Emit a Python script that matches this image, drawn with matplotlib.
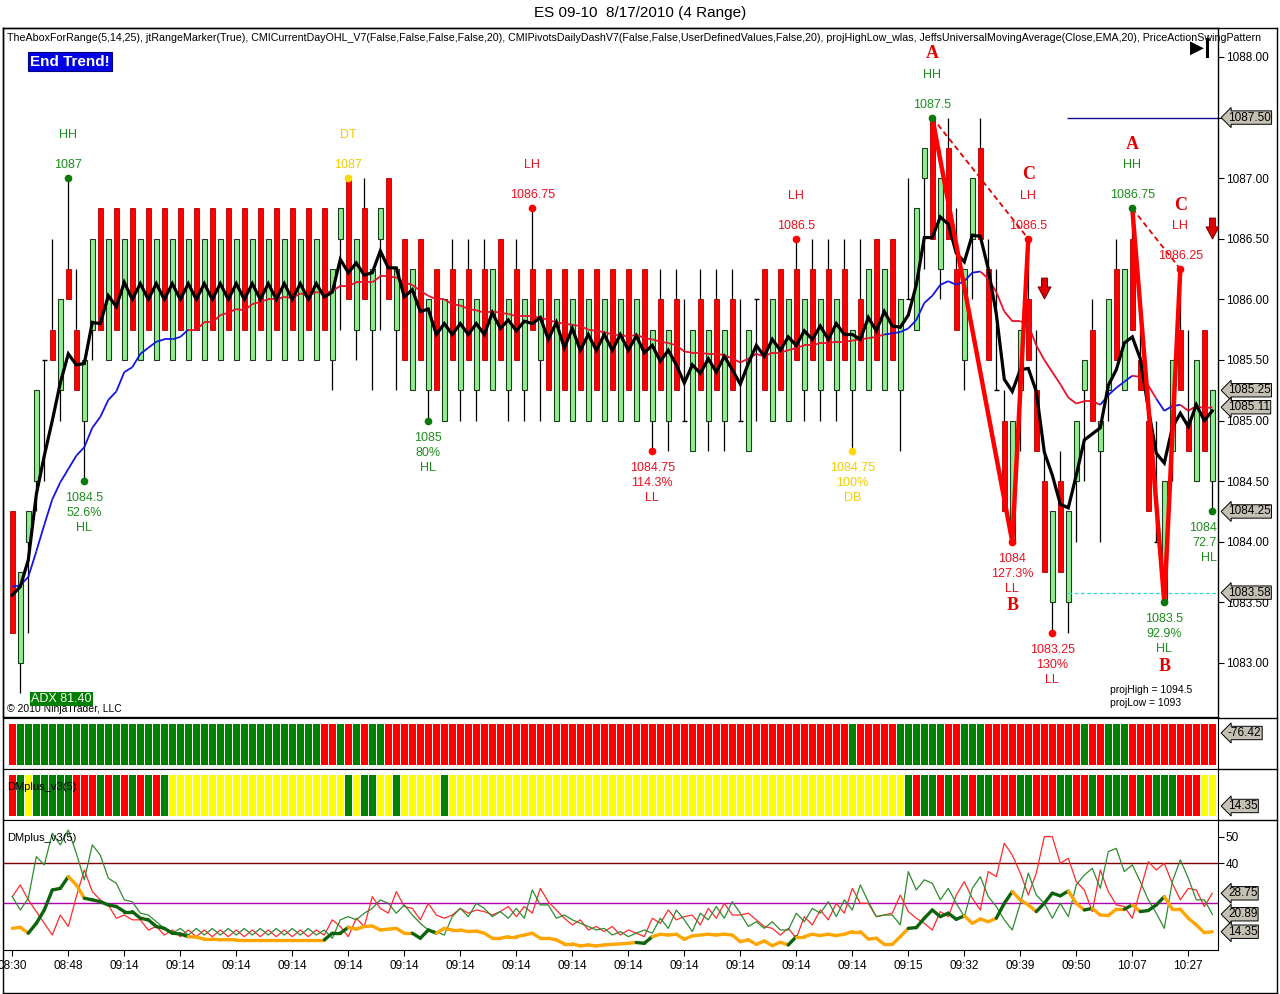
import matplotlib
matplotlib.use("Agg")
import matplotlib.pyplot as plt
from matplotlib.collections import LineCollection
from matplotlib.path import Path
from matplotlib.lines import Line2D
import numpy as np

plt.rcParams['font.family'] = ['Liberation Sans', 'DejaVu Sans']

# ---------------- text ----------------
title = "ES 09-10  8/17/2010 (4 Range)"
header = ("TheAboxForRange(5,14,25), jtRangeMarker(True), CMICurrentDayOHL_V7(False,False,False,False,20), "
          "CMIPivotsDailyDashV7(False,False,UserDefinedValues,False,20), projHighLow_wlas, "
          "JeffsUniversalMovingAverage(Close,EMA,20), PriceActionSwingPattern")

# ---------------- price bars (4-tick range bars) ----------------
opens = [
    1084.25, 1083.0, 1084.0, 1084.5, 1085.5, 1085.75, 1085.25, 1086.25, 1085.75, 1085.0,
    1085.75, 1086.75, 1085.5, 1086.75, 1085.5, 1086.75, 1085.5, 1086.75, 1085.5, 1086.75,
    1085.5, 1086.75, 1085.5, 1086.75, 1085.5, 1086.75, 1085.5, 1086.75, 1085.5, 1086.75,
    1085.5, 1086.75, 1085.5, 1086.75, 1085.5, 1086.75, 1085.5, 1086.75, 1085.5, 1086.75,
    1085.5, 1086.5, 1087.0, 1085.75, 1086.75, 1085.75, 1086.5, 1087.0, 1085.75, 1086.5,
    1085.25, 1086.5, 1085.25, 1086.25, 1085.0, 1086.25, 1085.25, 1086.25, 1085.25, 1086.25,
    1085.25, 1086.5, 1085.25, 1086.25, 1085.25, 1086.25, 1085.5, 1086.25, 1085.0, 1086.25,
    1085.0, 1086.25, 1085.0, 1086.25, 1085.0, 1086.25, 1085.0, 1086.25, 1085.0, 1086.25,
    1085.0, 1086.0, 1085.0, 1086.0, 1085.0, 1084.75, 1086.0, 1085.0, 1086.0, 1085.0,
    1086.0, 1085.0, 1084.75, 1086.0, 1086.25, 1085.0, 1086.25, 1085.0, 1086.25, 1085.25,
    1086.25, 1085.25, 1086.25, 1085.25, 1086.25, 1085.25, 1086.0, 1085.25, 1086.5, 1085.25,
    1086.5, 1085.25, 1086.0, 1085.75, 1087.0, 1087.5, 1086.25, 1087.25, 1086.25, 1085.5,
    1086.5, 1087.25, 1086.25, 1085.25, 1085.0, 1084.0, 1085.25, 1086.0, 1085.25, 1084.5,
    1083.5, 1084.5, 1083.5, 1084.5, 1085.25, 1085.75, 1084.75, 1085.25, 1086.25, 1085.25,
    1086.5, 1085.5, 1085.0, 1084.0, 1083.5, 1084.75, 1085.75, 1085.0, 1084.5, 1085.75,
    1084.5]
highs = [
    1084.25, 1083.75, 1084.25, 1085.25, 1085.5, 1086.5, 1086.0, 1087.0, 1086.25, 1085.5,
    1086.5, 1086.75, 1086.5, 1086.75, 1086.5, 1086.75, 1086.5, 1086.75, 1086.5, 1086.75,
    1086.5, 1086.75, 1086.5, 1086.75, 1086.5, 1086.75, 1086.5, 1086.75, 1086.5, 1086.75,
    1086.5, 1086.75, 1086.5, 1086.75, 1086.5, 1086.75, 1086.5, 1086.75, 1086.5, 1086.75,
    1086.25, 1086.75, 1087.0, 1086.5, 1087.0, 1086.25, 1086.75, 1087.0, 1086.25, 1086.5,
    1086.25, 1086.5, 1086.0, 1086.25, 1086.0, 1086.5, 1086.0, 1086.5, 1086.0, 1086.5,
    1086.25, 1086.5, 1086.0, 1086.5, 1086.0, 1086.75, 1086.0, 1086.25, 1086.0, 1086.25,
    1086.0, 1086.25, 1086.0, 1086.25, 1086.0, 1086.25, 1086.0, 1086.25, 1086.0, 1086.25,
    1085.75, 1086.25, 1085.75, 1086.25, 1086.0, 1085.75, 1086.25, 1085.75, 1086.25, 1085.75,
    1086.25, 1086.0, 1085.75, 1086.0, 1086.25, 1086.0, 1086.25, 1086.0, 1086.5, 1086.0,
    1086.5, 1086.0, 1086.5, 1086.0, 1086.5, 1085.75, 1086.5, 1086.25, 1086.5, 1086.25,
    1086.5, 1086.0, 1087.0, 1086.75, 1087.25, 1087.5, 1087.0, 1087.5, 1086.75, 1086.25,
    1087.0, 1087.5, 1086.5, 1086.25, 1085.25, 1085.0, 1085.75, 1086.5, 1085.75, 1084.75,
    1084.25, 1084.75, 1084.25, 1085.0, 1085.5, 1086.0, 1085.0, 1086.0, 1086.5, 1086.25,
    1086.75, 1085.75, 1085.25, 1085.0, 1084.5, 1085.5, 1086.25, 1085.75, 1085.5, 1085.75,
    1085.25]
lows = [
    1083.25, 1082.75, 1083.25, 1084.25, 1084.5, 1085.5, 1085.0, 1086.0, 1085.25, 1084.5,
    1085.5, 1085.75, 1085.5, 1085.75, 1085.5, 1085.75, 1085.5, 1085.75, 1085.5, 1085.75,
    1085.5, 1085.75, 1085.5, 1085.75, 1085.5, 1085.75, 1085.5, 1085.75, 1085.5, 1085.75,
    1085.5, 1085.75, 1085.5, 1085.75, 1085.5, 1085.75, 1085.5, 1085.75, 1085.5, 1085.75,
    1085.25, 1085.75, 1086.0, 1085.5, 1086.0, 1085.25, 1085.75, 1086.0, 1085.25, 1085.5,
    1085.25, 1085.5, 1085.0, 1085.25, 1085.0, 1085.5, 1085.0, 1085.5, 1085.0, 1085.5,
    1085.25, 1085.5, 1085.0, 1085.5, 1085.0, 1085.75, 1085.0, 1085.25, 1085.0, 1085.25,
    1085.0, 1085.25, 1085.0, 1085.25, 1085.0, 1085.25, 1085.0, 1085.25, 1085.0, 1085.25,
    1084.75, 1085.25, 1084.75, 1085.25, 1085.0, 1084.75, 1085.25, 1084.75, 1085.25, 1084.75,
    1085.25, 1085.0, 1084.75, 1085.0, 1085.25, 1085.0, 1085.25, 1085.0, 1085.5, 1085.0,
    1085.5, 1085.0, 1085.5, 1085.0, 1085.5, 1084.75, 1085.5, 1085.25, 1085.5, 1085.25,
    1085.5, 1084.75, 1086.0, 1085.75, 1086.25, 1086.5, 1086.0, 1086.5, 1085.75, 1085.25,
    1086.0, 1086.5, 1085.5, 1085.25, 1084.25, 1084.0, 1084.75, 1085.5, 1084.75, 1083.75,
    1083.25, 1083.75, 1083.25, 1084.0, 1084.5, 1085.0, 1084.0, 1085.0, 1085.5, 1085.25,
    1085.75, 1085.25, 1084.25, 1084.0, 1083.5, 1084.5, 1085.25, 1084.75, 1084.5, 1084.75,
    1084.25]
closes = [
    1083.25, 1083.75, 1084.25, 1085.25, 1085.5, 1085.5, 1086.0, 1086.0, 1085.25, 1085.5,
    1086.5, 1085.75, 1086.5, 1085.75, 1086.5, 1085.75, 1086.5, 1085.75, 1086.5, 1085.75,
    1086.5, 1085.75, 1086.5, 1085.75, 1086.5, 1085.75, 1086.5, 1085.75, 1086.5, 1085.75,
    1086.5, 1085.75, 1086.5, 1085.75, 1086.5, 1085.75, 1086.5, 1085.75, 1086.5, 1085.75,
    1086.25, 1086.75, 1086.0, 1086.5, 1086.0, 1086.25, 1086.75, 1086.0, 1086.25, 1085.5,
    1086.25, 1085.5, 1086.0, 1085.25, 1086.0, 1085.5, 1086.0, 1085.5, 1086.0, 1085.5,
    1086.25, 1085.5, 1086.0, 1085.5, 1086.0, 1085.75, 1086.0, 1085.25, 1086.0, 1085.25,
    1086.0, 1085.25, 1086.0, 1085.25, 1086.0, 1085.25, 1086.0, 1085.25, 1086.0, 1085.25,
    1085.75, 1085.25, 1085.75, 1085.25, 1085.0, 1085.75, 1085.25, 1085.75, 1085.25, 1085.75,
    1085.25, 1085.0, 1085.75, 1086.0, 1085.25, 1086.0, 1085.25, 1086.0, 1085.5, 1086.0,
    1085.5, 1086.0, 1085.5, 1086.0, 1085.5, 1085.75, 1085.5, 1086.25, 1085.5, 1086.25,
    1085.5, 1086.0, 1086.0, 1086.75, 1087.25, 1086.5, 1087.0, 1086.5, 1085.75, 1086.25,
    1087.0, 1086.5, 1085.5, 1085.25, 1084.25, 1085.0, 1085.75, 1085.5, 1084.75, 1083.75,
    1084.25, 1083.75, 1084.25, 1085.0, 1085.5, 1085.0, 1085.0, 1086.0, 1085.5, 1086.25,
    1085.75, 1085.25, 1084.25, 1084.0, 1084.5, 1085.5, 1085.25, 1084.75, 1085.5, 1084.75,
    1085.25]

# fast (black) moving average
fast_ma = [
    1083.56, 1083.63, 1083.85, 1084.39, 1084.71, 1085.0, 1085.31, 1085.55, 1085.46, 1085.47,
    1085.81, 1085.8, 1086.03, 1085.94, 1086.14, 1086.0, 1086.13, 1086.0, 1086.13, 1086.0,
    1086.13, 1086.0, 1086.13, 1086.0, 1086.13, 1086.0, 1086.13, 1086.0, 1086.13, 1086.0,
    1086.13, 1086.0, 1086.13, 1086.0, 1086.13, 1086.0, 1086.13, 1086.0, 1086.13, 1086.02,
    1086.06, 1086.33, 1086.22, 1086.3, 1086.2, 1086.22, 1086.4, 1086.26, 1086.26, 1086.02,
    1086.08, 1085.9, 1085.92, 1085.71, 1085.8, 1085.71, 1085.8, 1085.71, 1085.8, 1085.71,
    1085.89, 1085.76, 1085.83, 1085.74, 1085.82, 1085.8, 1085.85, 1085.67, 1085.81, 1085.6,
    1085.76, 1085.58, 1085.71, 1085.58, 1085.71, 1085.58, 1085.71, 1085.58, 1085.7, 1085.56,
    1085.62, 1085.49, 1085.58, 1085.46, 1085.31, 1085.46, 1085.39, 1085.51, 1085.4, 1085.53,
    1085.42, 1085.3, 1085.47, 1085.62, 1085.53, 1085.67, 1085.58, 1085.69, 1085.62, 1085.74,
    1085.67, 1085.78, 1085.67, 1085.8, 1085.71, 1085.71, 1085.67, 1085.85, 1085.74, 1085.9,
    1085.78, 1085.77, 1085.87, 1086.12, 1086.51, 1086.51, 1086.68, 1086.62, 1086.38, 1086.31,
    1086.53, 1086.52, 1086.25, 1085.88, 1085.34, 1085.24, 1085.42, 1085.43, 1085.24, 1084.74,
    1084.55, 1084.31, 1084.28, 1084.55, 1084.84, 1084.89, 1084.94, 1085.29, 1085.42, 1085.64,
    1085.69, 1085.51, 1085.1, 1084.73, 1084.65, 1084.94, 1085.06, 1084.95, 1085.13, 1085.0,
    1085.08]
# EMA(20)
ema20 = [
    1083.63, 1083.64, 1083.71, 1083.92, 1084.14, 1084.35, 1084.49, 1084.6, 1084.71, 1084.78,
    1084.94, 1085.03, 1085.17, 1085.24, 1085.4, 1085.44, 1085.55, 1085.6, 1085.65, 1085.67,
    1085.67, 1085.69, 1085.75, 1085.75, 1085.81, 1085.81, 1085.87, 1085.89, 1085.92, 1085.91,
    1085.96, 1085.98, 1086.0, 1086.0, 1086.02, 1086.01, 1086.05, 1086.03, 1086.06, 1086.05,
    1086.07, 1086.11, 1086.11, 1086.14, 1086.14, 1086.14, 1086.19, 1086.19, 1086.18, 1086.14,
    1086.12, 1086.07, 1086.03, 1086.0, 1086.0, 1085.96, 1085.95, 1085.92, 1085.91, 1085.89,
    1085.9, 1085.89, 1085.88, 1085.86, 1085.86, 1085.86, 1085.85, 1085.83, 1085.81, 1085.8,
    1085.79, 1085.78, 1085.75, 1085.74, 1085.73, 1085.71, 1085.71, 1085.69, 1085.71, 1085.68,
    1085.67, 1085.65, 1085.64, 1085.62, 1085.57, 1085.56, 1085.56, 1085.55, 1085.55, 1085.54,
    1085.51, 1085.48, 1085.51, 1085.55, 1085.53, 1085.56, 1085.56, 1085.58, 1085.6, 1085.62,
    1085.62, 1085.64, 1085.64, 1085.65, 1085.65, 1085.66, 1085.67, 1085.68, 1085.69, 1085.71,
    1085.72, 1085.73, 1085.76, 1085.83, 1085.97, 1086.03, 1086.12, 1086.15, 1086.12, 1086.15,
    1086.22, 1086.23, 1086.17, 1086.06, 1085.9, 1085.82, 1085.82, 1085.79, 1085.62, 1085.5,
    1085.4, 1085.3, 1085.19, 1085.14, 1085.16, 1085.16, 1085.13, 1085.21, 1085.27, 1085.32,
    1085.37, 1085.36, 1085.29, 1085.18, 1085.08, 1085.12, 1085.13, 1085.08, 1085.12, 1085.1,
    1085.11]
ema20_color_runs = [("r", 1), ("b", 22), ("r", 87), ("b", 12), ("r", 15), ("b", 4),
                    ("r", 3), ("b", 3), ("r", 4)]

# swing points
hi_bars = [7, 42, 65, 98, 115, 127, 140, 146]
hi_prices = [1087.0, 1087.0, 1086.75, 1086.5, 1087.5, 1086.5, 1086.75, 1086.25]
hi_values = ["1087", "1087", "1086.75", "1086.5", "1087.5", "1086.5", "1086.75", "1086.25"]
hi_types = ["HH", "DT", "LH", "LH", "HH", "LH", "HH", "LH"]
hi_colors = ["g", "y", "r", "r", "g", "r", "g", "r"]
hi_letters = ["", "", "", "", "A", "C", "A", "C"]

lo_bars = [9, 52, 80, 105, 125, 130, 144, 150]
lo_prices = [1084.5, 1085.0, 1084.75, 1084.75, 1084.0, 1083.25, 1083.5, 1084.25]
lo_values = ["1084.5", "1085", "1084.75", "1084.75", "1084", "1083.25", "1083.5", "1084"]
lo_pcts = ["52.6%", "80%", "114.3%", "100%", "127.3%", "130%", "92.9%", "72.7"]
lo_types = ["HL", "HL", "LL", "DB", "LL", "LL", "HL", "HL"]
lo_colors = ["g", "g", "r", "y", "r", "r", "g", "g"]
lo_letters = ["", "", "", "", "B", "", "B", ""]
lo_at_edge = [False, False, False, False, False, False, False, True]

abc1_bars = [115, 125, 127]
abc1_prices = [1087.5, 1084.0, 1086.5]
abc2_bars = [140, 144, 146]
abc2_prices = [1086.75, 1083.5, 1086.25]

arrow_bars = [129, 150]
arrow_prices = [1086.09, 1086.59]

proj_high_level = 1087.5
proj_high_start = 131.8
cyan_level = 1083.58
cyan_start = 132

price_tags = [("1087.50", 1087.5), ("1085.25", 1085.25), ("1085.11", 1085.11),
              ("1084.25", 1084.25), ("1083.58", 1083.58)]
price_ticks = [1083.0, 1083.5, 1084.0, 1084.5, 1085.0, 1085.5, 1086.0, 1086.5, 1087.0, 1087.5, 1088.0]
price_tick_labels = ["1083.00", "1083.50", "1084.00", "1084.50", "1085.00", "1085.50",
                     "1086.00", "1086.50", "1087.00", "", "1088.00"]

# colour strips
strip1_runs = [("r", 1), ("g", 38), ("r", 2), ("g", 1), ("r", 1), ("g", 1), ("r", 1), ("g", 2),
               ("r", 58), ("g", 1), ("r", 5), ("g", 6), ("r", 2), ("g", 3), ("r", 12), ("g", 1),
               ("r", 2), ("g", 3), ("r", 11)]
strip1_value = "-76.42"
strip2_runs = [("r", 1), ("g", 1), ("y", 1), ("g", 5), ("r", 3), ("g", 1), ("r", 1), ("g", 1),
               ("r", 1), ("g", 1), ("r", 1), ("g", 1), ("r", 1), ("g", 1), ("y", 22), ("g", 1),
               ("y", 1), ("g", 2), ("y", 2), ("g", 1), ("y", 5), ("g", 1), ("y", 57),
               ("g", 1), ("r", 1), ("g", 2), ("r", 1), ("g", 1), ("r", 1), ("g", 1), ("r", 1),
               ("g", 2), ("r", 3), ("g", 2), ("r", 3), ("g", 2), ("r", 2), ("g", 1), ("r", 1),
               ("g", 3), ("r", 1), ("g", 1), ("r", 1), ("g", 3), ("r", 3), ("y", 2)]
strip2_value = "14.35"

# DMplus panel
di_minus = [
    27.5, 31.9, 26.3, 21.9, 17.5, 13.1, 20.6, 16.3, 27.5, 37.5,
    29.4, 26.3, 24.4, 19.4, 20.6, 18.8, 18.8, 15.0, 16.3, 13.1,
    15.0, 12.5, 15.0, 12.5, 15.0, 12.5, 15.0, 12.5, 15.0, 12.5,
    15.0, 12.5, 15.0, 12.5, 15.0, 12.5, 15.0, 12.5, 15.0, 13.1,
    18.8, 16.3, 12.5, 19.4, 16.3, 27.5, 23.1, 21.3, 29.4, 23.8,
    23.1, 18.8, 25.0, 20.6, 19.4, 20.6, 23.1, 21.3, 22.5, 21.9,
    20.6, 21.9, 23.8, 20.0, 23.8, 21.3, 30.6, 25.6, 22.5, 19.4,
    16.9, 18.8, 15.0, 16.3, 14.4, 16.3, 13.1, 15.0, 13.8, 12.5,
    19.4, 17.5, 22.5, 18.8, 20.0, 20.6, 16.9, 23.1, 19.4, 25.0,
    20.6, 20.6, 21.3, 18.8, 16.3, 15.6, 13.1, 15.6, 11.9, 20.0,
    16.9, 22.5, 18.8, 25.0, 21.3, 30.6, 25.0, 25.0, 20.0, 20.6,
    21.3, 28.1, 21.9, 19.4, 17.5, 15.0, 21.9, 20.0, 28.1, 33.1,
    26.9, 22.5, 36.9, 35.0, 47.5, 43.1, 36.3, 28.1, 36.3, 50.0,
    50.0, 40.0, 41.9, 33.1, 30.0, 21.9, 37.5, 29.4, 24.4, 23.8,
    19.4, 30.0, 40.6, 37.5, 40.0, 32.5, 26.3, 30.6, 30.0, 23.8,
    28.75]
di_plus = [
    27.5, 22.5, 26.9, 42.5, 39.4, 51.3, 46.9, 52.5, 43.8, 33.8,
    46.9, 43.1, 34.4, 32.5, 26.3, 25.6, 21.3, 20.6, 18.1, 15.6,
    13.8, 15.6, 13.1, 15.6, 13.1, 15.6, 13.1, 15.6, 13.1, 15.6,
    13.1, 15.6, 13.1, 15.6, 13.1, 15.6, 13.1, 15.6, 13.1, 15.0,
    11.9, 18.8, 20.0, 18.8, 21.3, 23.1, 26.3, 25.0, 21.3, 24.4,
    20.6, 17.5, 15.0, 14.4, 13.1, 20.0, 23.1, 20.0, 25.0, 23.1,
    20.0, 21.9, 19.4, 23.1, 19.4, 30.0, 24.4, 24.4, 19.4, 20.6,
    18.8, 17.5, 16.3, 15.0, 15.6, 13.1, 14.4, 12.5, 13.8, 15.0,
    13.8, 19.4, 15.6, 22.5, 18.8, 14.4, 21.3, 18.8, 23.8, 19.4,
    25.6, 21.3, 16.3, 18.1, 15.6, 18.1, 15.0, 15.0, 21.3, 18.1,
    23.1, 21.3, 25.6, 20.0, 26.3, 22.5, 31.9, 25.6, 20.0, 20.6,
    20.6, 16.9, 36.9, 30.0, 33.8, 32.5, 26.3, 30.6, 25.0, 20.0,
    30.6, 35.0, 27.5, 23.8, 18.8, 15.0, 25.0, 36.3, 28.1, 25.0,
    19.4, 25.0, 20.0, 31.9, 35.6, 38.1, 30.6, 44.4, 45.6, 36.9,
    39.4, 33.1, 26.3, 21.3, 15.6, 33.1, 41.3, 34.4, 26.3, 26.3,
    20.89]
adx = [
    15.6, 16.0, 13.8, 17.5, 22.5, 30.0, 30.6, 35.0, 31.9, 26.9,
    26.3, 25.6, 24.4, 23.8, 21.9, 21.9, 19.4, 18.8, 16.3, 15.6,
    13.8, 13.5, 12.5, 12.3, 11.6, 11.6, 11.3, 11.4, 11.3, 11.3,
    11.3, 11.3, 11.3, 11.3, 11.3, 11.3, 11.3, 11.3, 11.3, 11.3,
    13.8, 13.8, 16.0, 15.3, 16.3, 16.5, 15.0, 15.3, 15.6, 13.8,
    13.8, 11.9, 15.0, 13.8, 15.6, 15.0, 15.0, 14.4, 14.6, 13.8,
    11.9, 11.9, 12.5, 12.5, 13.1, 13.8, 11.9, 11.9, 11.3, 9.8,
    9.8, 9.0, 9.4, 9.0, 9.4, 9.6, 9.8, 10.0, 10.3, 10.0,
    12.5, 13.4, 13.1, 13.4, 11.5, 12.8, 13.1, 13.4, 13.1, 13.4,
    13.1, 10.6, 11.3, 9.6, 10.9, 9.1, 10.4, 9.4, 12.5, 12.5,
    13.4, 12.9, 13.4, 12.9, 13.4, 14.4, 14.4, 11.6, 11.9, 9.6,
    9.6, 12.5, 15.6, 15.9, 19.4, 22.5, 20.0, 21.3, 19.0, 20.3,
    17.5, 19.1, 18.1, 19.4, 25.0, 29.4, 26.3, 24.4, 21.9, 25.0,
    28.8, 27.8, 29.6, 25.0, 22.5, 23.1, 20.6, 20.4, 22.8, 22.8,
    24.4, 21.9, 22.3, 24.4, 27.5, 22.8, 22.8, 19.4, 16.9, 14.0,
    14.35]
adx_color_runs = [("o", 3), ("g", 5), ("o", 2), ("g", 13), ("o", 17), ("g", 3), ("o", 8),
                  ("g", 3), ("o", 25), ("g", 2), ("o", 17), ("g", 1), ("o", 14), ("g", 7),
                  ("o", 4), ("g", 2), ("o", 3), ("g", 4), ("o", 2), ("g", 1), ("o", 4),
                  ("g", 1), ("o", 1), ("g", 3), ("o", 6)]
dm_levels = [40, 25]
dm_ticks = [40, 50]
dm_tags = [("28.75", 28.75), ("20.89", 20.89), ("14.35", 14.35)]

time_tick_bars = [0, 7, 14, 21, 28, 35, 42, 49, 56, 63, 70, 77, 84, 91, 98, 105,
                  112, 119, 126, 133, 140, 147]
time_tick_labels = ["08:30", "08:48", "09:14", "09:14", "09:14", "09:14", "09:14", "09:14",
                    "09:14", "09:14", "09:14", "09:14", "09:14", "09:14", "09:14", "09:14",
                    "09:15", "09:32", "09:39", "09:50", "10:07", "10:27"]


def expand(runs):
    out = []
    for c, k in runs:
        out += [c] * k
    return out


# ---------------- layout ----------------
W, H = 1280, 994
fig = plt.figure(figsize=(W / 100, H / 100), dpi=100)
fig.patch.set_facecolor("white")


def rect(x0, y0, x1, y1):
    return [x0 / W, 1 - y1 / H, (x1 - x0) / W, (y1 - y0) / H]


XL = ((3 - 12.3) / 8, (1218 - 12.3) / 8)
n = len(closes)
x = np.arange(n)

GREEN_TXT = "#1E8C1E"
RED_TXT = "#E8101E"
YEL_TXT = "#F0CC00"
txtcol = {"g": GREEN_TXT, "r": RED_TXT, "y": YEL_TXT}
dotcol = {"g": "#0A780A", "r": "#FF0000", "y": "#FFD700"}


def tag(axis, yval, text, coords="data"):
    axis.annotate(text, xy=(1.0, yval), xycoords=("axes fraction", coords),
                  xytext=(10, 0), textcoords="offset pixels", ha="left", va="center",
                  fontsize=8.5, color="black", annotation_clip=False, zorder=20,
                  bbox=dict(boxstyle="larrow,pad=0.06", fc="#C4C0B4", ec="black", lw=0.7))


# ---------------- main price panel ----------------
ax = fig.add_axes(rect(3, 28, 1218, 717))
ax.set_xlim(*XL)
ax.set_ylim(1082.554, 1088.239)
o = np.array(opens); h = np.array(highs); l = np.array(lows); c = np.array(closes)
up = c > o
dn = c < o
dj = c == o
ax.vlines(x, l, h, color="black", lw=0.9, zorder=2)
ax.bar(x[up], (c - o)[up], bottom=o[up], width=0.62, color="#90EE90",
       edgecolor="#1E3C1E", lw=0.8, zorder=3)
ax.bar(x[dn], (o - c)[dn], bottom=c[dn], width=0.62, color="#FF0000",
       edgecolor="#B00000", lw=0.6, zorder=3)
ax.hlines(c[dj], x[dj] - 0.31, x[dj] + 0.31, color="black", lw=1.0, zorder=3)

# EMA20 coloured line
ema_cols = expand(ema20_color_runs)
cmap_ema = {"r": "#E8102A", "b": "#1414E6"}
segs = [[(x[i - 1], ema20[i - 1]), (x[i], ema20[i])] for i in range(1, n)]
ax.add_collection(LineCollection(segs, colors=[cmap_ema[ema_cols[i]] for i in range(1, n)],
                                 linewidths=1.3, zorder=4))
ax.plot(x, fast_ma, color="black", lw=2.3, zorder=5, solid_joinstyle="miter")

# horizontal lines
ax.hlines(proj_high_level, proj_high_start, XL[1], color="#10108C", lw=1.0, zorder=4)
ax.hlines(cyan_level, cyan_start, XL[1], color="#33D6E6", lw=0.9, linestyles=(0, (3, 2)), zorder=4)

# ABC swing pattern
for bb, pp in ((abc1_bars, abc1_prices), (abc2_bars, abc2_prices)):
    ax.plot(bb, pp, color="#FF0000", lw=3.2, zorder=6, solid_joinstyle="miter")
    ax.plot([bb[0], bb[2]], [pp[0], pp[2]], color="#E00000", lw=1.3,
            linestyle=(0, (3, 2)), zorder=6)

# swing labels
lab_kw = dict(textcoords="offset pixels", va="center", fontsize=9,
              clip_on=True, annotation_clip=False, zorder=9)
let_kw = dict(textcoords="offset pixels", ha="center", va="center", fontsize=13,
              family=["Liberation Serif", "DejaVu Serif"], fontweight="bold",
              color="#E00000", clip_on=True, annotation_clip=False, zorder=9)
for b, p, v, t, col, let in zip(hi_bars, hi_prices, hi_values, hi_types, hi_colors, hi_letters):
    ax.plot(b, p, "o", ms=4.5, color=dotcol[col], zorder=8)
    ax.annotate(v, (b, p), xytext=(0, 13), color=txtcol[col], ha="center", **lab_kw)
    ax.annotate(t, (b, p), xytext=(0, 43), color=txtcol[col], ha="center", **lab_kw)
    if let:
        ax.annotate(let, (b, p), xytext=(0, 64), **let_kw)
for b, p, v, pc, t, col, let, edge in zip(lo_bars, lo_prices, lo_values, lo_pcts, lo_types,
                                          lo_colors, lo_letters, lo_at_edge):
    ax.plot(b, p, "o", ms=4.5, color=dotcol[col], zorder=8)
    if edge:
        anchor, ha, dx = (XL[1], p), "right", -1
    else:
        anchor, ha, dx = (b, p), "center", 0
    ax.annotate(v, anchor, xytext=(dx, -17), color=txtcol[col], ha=ha, **lab_kw)
    ax.annotate(pc, anchor, xytext=(dx, -32), color=txtcol[col], ha=ha, **lab_kw)
    ax.annotate(t, anchor, xytext=(dx, -47), color=txtcol[col], ha=ha, **lab_kw)
    if let:
        ax.annotate(let, (b, p), xytext=(0, -64), **let_kw)

# down arrows
arrow_path = Path([(-0.28, 1.0), (0.28, 1.0), (0.28, 0.15), (0.62, 0.15), (0.0, -1.0),
                   (-0.62, 0.15), (-0.28, 0.15), (-0.28, 1.0)],
                  [Path.MOVETO] + [Path.LINETO] * 6 + [Path.CLOSEPOLY])
ax.plot(arrow_bars, arrow_prices, linestyle="none", marker=arrow_path, ms=15,
        mfc="#E00000", mec="#700000", mew=0.7, zorder=8)

# price axis
ax.set_yticks(price_ticks)
ax.set_yticklabels(price_tick_labels)
ax.yaxis.tick_right()
ax.tick_params(axis="y", right=True, left=False, length=4, width=0.8, pad=1.5, labelsize=8.5)
ax.tick_params(axis="x", bottom=False, labelbottom=False)
for sp in ax.spines.values():
    sp.set_linewidth(1.0)
for lbl, v in price_tags:
    tag(ax, v, lbl)

# ---------------- colour strip 1 ----------------
cmap_strip = {"r": "#FF0000", "g": "#008000", "y": "#FFFF00"}
ax1 = fig.add_axes(rect(3, 718, 1218, 769))
ax1.set_xlim(*XL)
ax1.set_ylim(-4 / 41, 1 + 6 / 41)
ax1.bar(x, np.ones(n), width=0.86, color=[cmap_strip[k] for k in expand(strip1_runs)], lw=0)
ax1.set_xticks([]); ax1.set_yticks([])
tag(ax1, 0.706, strip1_value, coords="axes fraction")

# ---------------- colour strip 2 ----------------
ax2 = fig.add_axes(rect(3, 769, 1218, 820))
ax2.set_xlim(*XL)
ax2.set_ylim(-4 / 41, 1 + 6 / 41)
ax2.bar(x, np.ones(n), width=0.86, color=[cmap_strip[k] for k in expand(strip2_runs)], lw=0)
ax2.set_xticks([]); ax2.set_yticks([])
ax2.text(0.003, 0.65, "DMplus_v3(5)", transform=ax2.transAxes, fontsize=8, va="center", ha="left")
tag(ax2, 0.275, strip2_value, coords="axes fraction")

# ---------------- DMplus panel ----------------
ax3 = fig.add_axes(rect(3, 820, 1218, 950))
ax3.set_xlim(*XL)
ax3.set_ylim(7.49, 56.24)
ax3.axhline(dm_levels[0], color="#800000", lw=1.0, zorder=1)
ax3.axhline(dm_levels[1], color="#B000B0", lw=1.0, zorder=1)
ax3.plot(x, di_minus, color="#FF2A2A", lw=0.9, zorder=2)
ax3.plot(x, di_plus, color="#2E8B2E", lw=0.9, zorder=2)
adx_cols = expand(adx_color_runs)
cmap_adx = {"o": "#FFA500", "g": "#0B640B"}
segs = [[(x[i - 1], adx[i - 1]), (x[i], adx[i])] for i in range(1, n)]
ax3.add_collection(LineCollection(segs, colors=[cmap_adx[adx_cols[i]] for i in range(1, n)],
                                  linewidths=2.4, zorder=3, capstyle="round"))
ax3.text(0.003, 0.86, "DMplus_v3(5)", transform=ax3.transAxes, fontsize=8, va="center", ha="left")
ax3.set_yticks(dm_ticks)
ax3.set_yticklabels([str(v) for v in dm_ticks])
ax3.yaxis.tick_right()
ax3.tick_params(axis="y", right=True, left=False, length=4, width=0.8, pad=1.5, labelsize=8.5)
ax3.set_xticks(time_tick_bars)
ax3.set_xticklabels(time_tick_labels)
ax3.tick_params(axis="x", length=4, width=0.8, pad=3, labelsize=8.5)
for lbl, v in dm_tags:
    tag(ax3, v, lbl)

# ---------------- frame & header ----------------
def fline(x0, y0, x1, y1, lw=1.0):
    fig.add_artist(Line2D([x0 / W, x1 / W], [1 - y0 / H, 1 - y1 / H],
                          transform=fig.transFigure, color="black", lw=lw))


fline(3, 28, 1277, 28)
fline(1277, 28, 1277, 993)
fline(3, 993, 1277, 993)
fline(3, 28, 3, 993)
for yy in (717.5, 769, 820):
    fline(1218, yy, 1277, yy)

fig.text(640 / W, 1 - 13 / H, title, ha="center", va="center", fontsize=11)
fig.text(7 / W, 1 - 38 / H, header, ha="left", va="center", fontsize=7.7)
fig.text(70 / W, 1 - 61.5 / H, "End Trend!", ha="center", va="center", fontsize=11,
         fontweight="bold", color="white",
         bbox=dict(boxstyle="square,pad=0.15", fc="#0000E6", ec="#000080", lw=0.8))
fig.text(7 / W, 1 - 709 / H, "\u00a9 2010 NinjaTrader, LLC", ha="left", va="center", fontsize=7.5)
fig.text(61.5 / W, 1 - 699 / H, "ADX 81.40", ha="center", va="center", fontsize=9, color="white",
         bbox=dict(boxstyle="square,pad=0.1", fc="#008000", ec="none"))
fig.text(1110 / W, 1 - 690 / H, "projHigh = 1094.5", ha="left", va="center", fontsize=7.5)
fig.text(1110 / W, 1 - 703 / H, "projLow = 1093", ha="left", va="center", fontsize=7.5)
fig.text(1197 / W, 1 - 47.5 / H, "\u25b6", ha="center", va="center", fontsize=13,
         family="DejaVu Sans", color="black")
fline(1207, 39, 1207, 56, lw=2.2)

fig.savefig("out.png", dpi=100, facecolor="white")
